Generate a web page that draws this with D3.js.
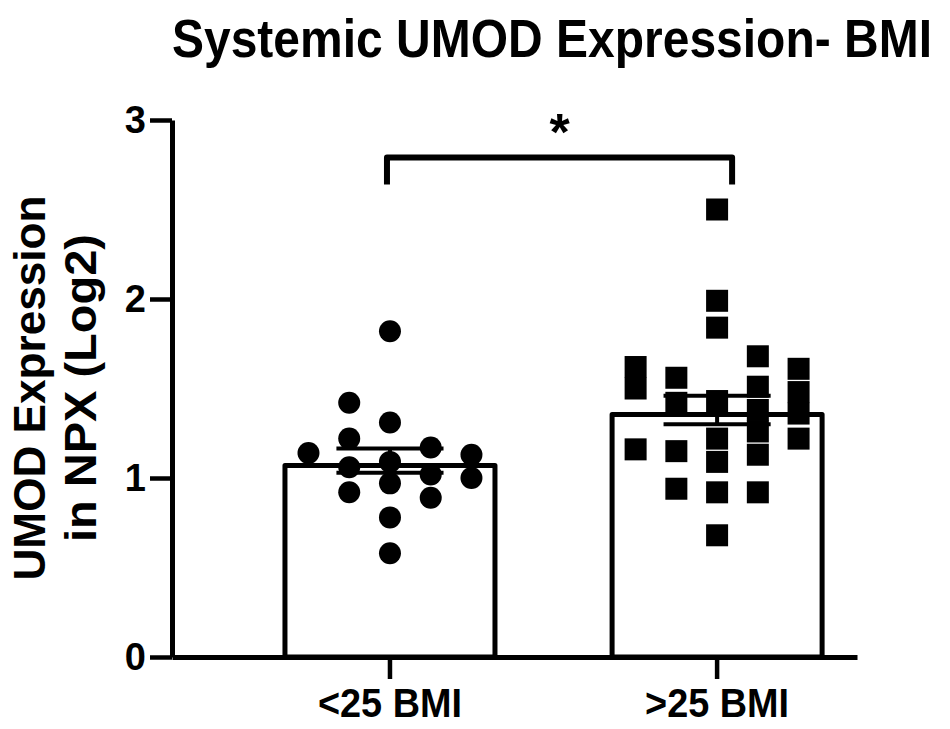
<!DOCTYPE html>
<html>
  <head>
    <script src="https://d3js.org/d3.v7.min.js"></script>
  </head>

    <style type="text/css">
      body { margin: 0; background: #fff; }
      svg { display: block; }
      text { font-family: "Liberation Sans", Arial, sans-serif; font-weight: bold; fill: #000; }
    </style>

  <body>
    <div id="chart"></div>

  <script type="text/javascript">

    // ---- data ----
    var categories = ["<25 BMI", ">25 BMI"];
    var barMeans = [1.07, 1.355];
    var semLow = [1.03, 1.30];
    var semHigh = [1.165, 1.46];
    var yTicks = [0, 1, 2, 3];

    // each point: [column slot in the scatter, value]
    var lowBmiPoints = [
      [0, 1.82], [-1, 1.42], [0, 1.31], [-1, 1.22], [-2, 1.14], [1, 1.17],
      [2, 1.13], [0, 1.09], [-1, 1.06], [1, 1.02], [2, 1.00], [0, 0.97],
      [-1, 0.92], [1, 0.89], [0, 0.78], [0, 0.58]
    ];
    var highBmiPoints = [
      [0, 2.50], [0, 1.99], [0, 1.84], [0, 1.43], [0, 1.22], [0, 1.09], [0, 0.92], [0, 0.68],
      [-2, 1.62], [-2, 1.50], [-2, 1.16],
      [-1, 1.56], [-1, 1.42], [-1, 1.15], [-1, 0.94],
      [1, 1.68], [1, 1.51], [1, 1.38], [1, 1.26], [1, 1.13], [1, 0.92],
      [2, 1.61], [2, 1.48], [2, 1.36], [2, 1.22]
    ];

    var width = 950;
    var height = 729;

    var svg = d3.select("#chart")
      .append("svg")
        .attr("width", width)
        .attr("height", height);

    var y = d3.scaleLinear()
        .domain([0, 3])
        .range([657, 120]);

    var x = d3.scaleBand()
        .domain(categories)
        .range([172, 857])
        .paddingInner(0.358)
        .paddingOuter(0.226)
        .align(0.764);

    var bw = x.bandwidth();
    var slot = bw * 0.194;
    function cx(cat) { return x(cat) + bw / 2; }

    // title (slightly stretched vertically like the original)
    svg.append("text")
        .attr("transform", "translate(552,57) scale(1,1.12)")
        .attr("text-anchor", "middle")
        .attr("font-size", 48)
        .text("Systemic UMOD Expression- BMI");

    // y title, two lines
    var yTitle = svg.append("g")
        .attr("transform", "translate(0," + 388 + ") rotate(-90)");
    yTitle.append("text")
        .attr("x", 0).attr("y", 45)
        .attr("text-anchor", "middle")
        .attr("font-size", 45)
        .attr("textLength", 385)
        .attr("lengthAdjust", "spacingAndGlyphs")
        .text("UMOD Expression");
    yTitle.append("text")
        .attr("x", 0).attr("y", 96)
        .attr("text-anchor", "middle")
        .attr("font-size", 45)
        .attr("textLength", 308)
        .attr("lengthAdjust", "spacingAndGlyphs")
        .text("in NPX (Log2)");

    // bars
    svg.selectAll(".bar")
        .data(categories)
        .enter()
        .append("rect")
        .attr("class", "bar")
        .attr("x", function(d) { return x(d); })
        .attr("y", function(d, i) { return y(barMeans[i]); })
        .attr("width", bw)
        .attr("height", function(d, i) { return y(0) - y(barMeans[i]); })
        .attr("fill", "#fff")
        .attr("stroke", "#000")
        .attr("stroke-width", 5)
        .attr("stroke-linejoin", "round");

    // points
    svg.selectAll(".dot")
        .data(lowBmiPoints)
        .enter()
        .append("circle")
        .attr("class", "dot")
        .attr("cx", function(d) { return cx(categories[0]) + d[0] * slot; })
        .attr("cy", function(d) { return y(d[1]); })
        .attr("r", 11)
        .attr("fill", "#000");

    var sq = 22;
    svg.selectAll(".sq")
        .data(highBmiPoints)
        .enter()
        .append("rect")
        .attr("class", "sq")
        .attr("x", function(d) { return cx(categories[1]) + d[0] * slot - sq / 2; })
        .attr("y", function(d) { return y(d[1]) - sq / 2; })
        .attr("width", sq)
        .attr("height", sq)
        .attr("fill", "#000");

    // error bars (SEM)
    var capHalf = bw * 0.255;
    categories.forEach(function(cat, i) {
      var g = svg.append("g")
          .attr("stroke", "#000")
          .attr("stroke-width", 4);
      g.append("line")
          .attr("x1", cx(cat)).attr("x2", cx(cat))
          .attr("y1", y(semLow[i])).attr("y2", y(semHigh[i]));
      [semLow[i], semHigh[i]].forEach(function(v) {
        g.append("line")
            .attr("x1", cx(cat) - capHalf).attr("x2", cx(cat) + capHalf)
            .attr("y1", y(v)).attr("y2", y(v));
      });
    });

    // axes
    var yAxis = svg.append("g")
        .attr("transform", "translate(" + 172 + ",0)")
        .call(d3.axisLeft(y).tickValues(yTicks).tickFormat(d3.format("d"))
          .tickSize(22).tickSizeOuter(0).tickPadding(4));

    var xAxis = svg.append("g")
        .attr("transform", "translate(0," + y(0) + ")")
        .call(d3.axisBottom(x).tickSize(22).tickSizeOuter(0).tickPadding(10));

    [yAxis, xAxis].forEach(function(a) {
      a.select(".domain").attr("stroke", "#000").attr("stroke-width", 5);
      a.selectAll(".tick line").attr("stroke", "#000").attr("stroke-width", 4.5);
      a.selectAll(".tick text").attr("fill", "#000")
        .style("font-family", "'Liberation Sans', Arial, sans-serif")
        .style("font-weight", "bold");
    });
    yAxis.selectAll(".tick text").attr("font-size", 38);
    xAxis.selectAll(".tick text")
        .attr("font-size", 40)
        .attr("textLength", 144)
        .attr("lengthAdjust", "spacingAndGlyphs");

    // significance bracket
    var bx1 = cx(categories[0]) - 3;
    var bx2 = cx(categories[1]) + 15;
    svg.append("path")
        .attr("d", "M" + bx1 + "," + y(2.64) + "V" + y(2.79) + "H" + bx2 + "V" + y(2.64))
        .attr("fill", "none")
        .attr("stroke", "#000")
        .attr("stroke-width", 6)
        .attr("stroke-linejoin", "round");

    svg.append("text")
        .attr("x", (bx1 + bx2) / 2)
        .attr("y", 150)
        .attr("text-anchor", "middle")
        .attr("font-size", 52)
        .text("*");

  </script>
  </body>
</html>
